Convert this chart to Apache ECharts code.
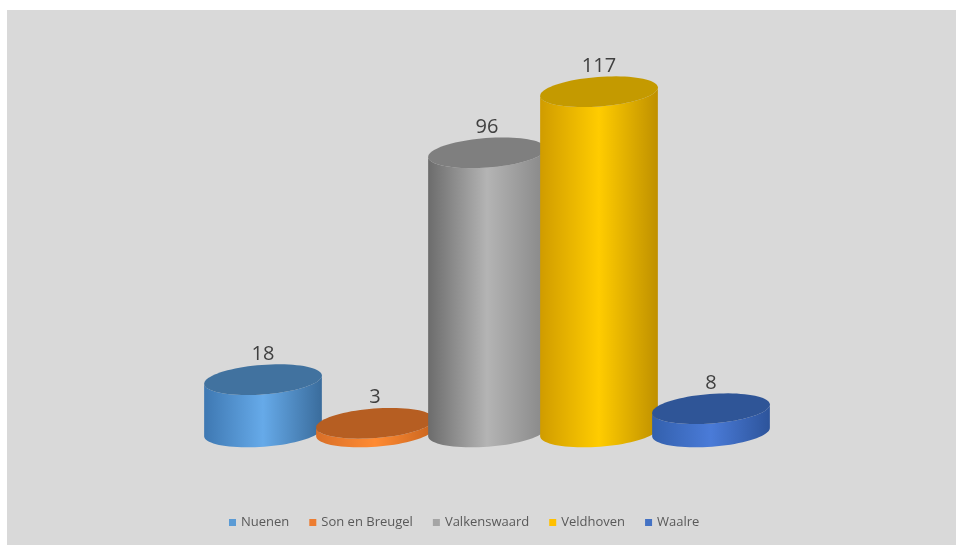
<!DOCTYPE html>
<html>
<head>
<meta charset="utf-8">
<script src="https://cdn.jsdelivr.net/npm/echarts@6/dist/echarts.min.js"></script>
<style>
  html, body { margin: 0; padding: 0; background: #ffffff; }
  #chart { position: absolute; left: 7px; top: 10px; width: 949px; height: 535px; background: #d9d9d9; }
</style>
</head>
<body>
<div id="chart"></div>
<script>
const categories = ['Nuenen', 'Son en Breugel', 'Valkenswaard', 'Veldhoven', 'Waalre'];
const values = [18, 3, 96, 117, 8];
const legendColors = ['#5b9bd5', '#ed7d31', '#a5a5a5', '#ffc000', '#4472c4'];
const topColors = ['#41729f', '#b65e22', '#7f7f7f', '#c49a00', '#2f5597'];
const sideColors = [
  ['#3e78b2', '#66aae9', '#3a6c9c'],
  ['#d86f28', '#ff8b33', '#c9651f'],
  ['#6c6c6c', '#b4b4b4', '#888888'],
  ['#d09c00', '#ffcc00', '#bf9000'],
  ['#3360ad', '#4a7bd8', '#2d549b']
];

const chart = echarts.init(document.getElementById('chart'), null, { renderer: 'canvas' });

function makeRender(i) {
  return function (params, api) {
    const idx = api.value(0);
    const v = api.value(1);
    const base = api.coord([idx, 0]);
    const top = api.coord([idx, v]);
    const band = api.size([1, 0])[0];
    const rx = band * 0.527;
    const ry = rx * 0.25;
    const th = -0.075;
    const c = Math.cos(th), s = Math.sin(th);
    function pt(cx, cy, t) {
      return [cx + rx * Math.cos(t) * c - ry * Math.sin(t) * s,
              cy + rx * Math.cos(t) * s + ry * Math.sin(t) * c];
    }
    const N = 40;
    const body = [];
    for (let k = 0; k <= N; k++) body.push(pt(base[0], base[1], Math.PI * k / N));
    for (let k = 0; k <= N; k++) body.push(pt(top[0], top[1], Math.PI - Math.PI * k / N));
    const cap = [];
    for (let k = 0; k < 2 * N; k++) cap.push(pt(top[0], top[1], 2 * Math.PI * k / (2 * N)));
    const capTop = top[1] - ry;
    const sc = sideColors[i];
    return {
      type: 'group',
      children: [
        {
          type: 'polygon',
          shape: { points: body },
          style: {
            fill: new echarts.graphic.LinearGradient(0, 0, 1, 0, [
              { offset: 0, color: sc[0] },
              { offset: 0.5, color: sc[1] },
              { offset: 1, color: sc[2] }
            ])
          }
        },
        {
          type: 'polygon',
          shape: { points: cap },
          style: { fill: topColors[i] }
        },
        {
          type: 'text',
          style: {
            x: top[0],
            y: capTop - 11,
            text: String(v),
            fill: '#404040',
            font: '20px "Open Sans", sans-serif',
            align: 'center',
            verticalAlign: 'middle'
          }
        }
      ]
    };
  };
}

const series = categories.map((name, i) => ({
  type: 'custom',
  name: name,
  data: [[i, values[i]]],
  encode: { x: 0, y: 1 },
  itemStyle: { color: legendColors[i] },
  clip: false,
  renderItem: makeRender(i)
}));

chart.setOption({
  animation: false,
  backgroundColor: '#d9d9d9',
  grid: { left: 200, width: 560, top: 73, bottom: 113 },
  xAxis: { type: 'category', data: categories, show: false },
  yAxis: { type: 'value', min: 0, max: 120, show: false },
  legend: {
    data: categories,
    left: 217,
    top: 501,
    icon: 'rect',
    itemWidth: 7,
    itemHeight: 7,
    itemGap: 20,
    textStyle: { color: '#595959', fontSize: 13, fontFamily: 'Open Sans' }
  },
  series: series
});
</script>
</body>
</html>
